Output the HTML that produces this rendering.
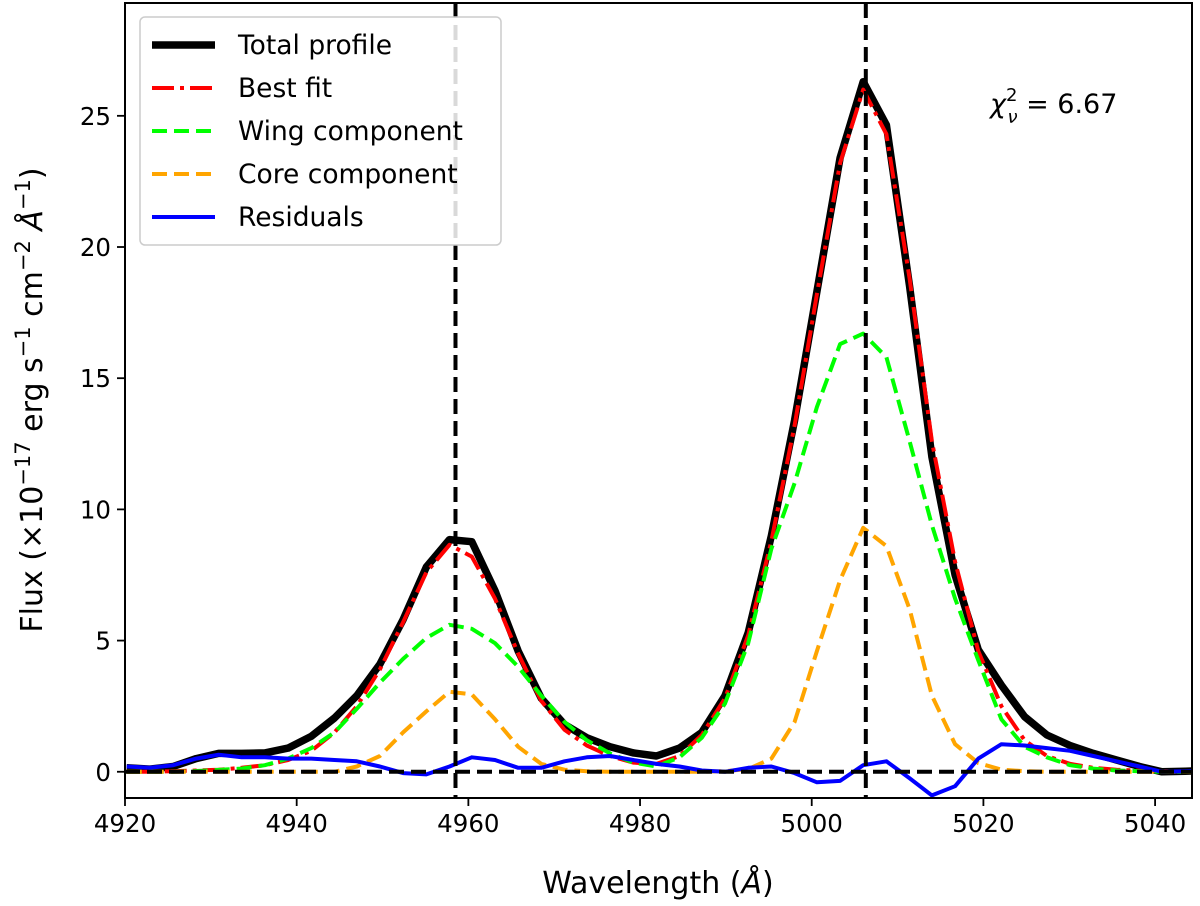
<!DOCTYPE html>
<html><head><meta charset="utf-8"><style>
body{margin:0;background:#fff;}
svg{display:block;font-family:"DejaVu Sans","Liberation Sans",sans-serif;}
</style></head><body>
<svg id="chart" width="1200" height="906" viewBox="0 0 1200 906">
<defs><clipPath id="clip"><rect x="125" y="3" width="1067" height="795"/></clipPath></defs>
<g id="plot" clip-path="url(#clip)"></g>
<rect x="125" y="3" width="1067" height="795" fill="none" stroke="#000" stroke-width="2"/>
<g id="axes"></g>
<text x="658" y="893" font-size="30" text-anchor="middle">Wavelength (<tspan font-style="italic">Å</tspan>)</text>
<text transform="translate(42,400) rotate(-90)" font-size="30" text-anchor="middle">Flux (×10<tspan dy="-12" font-size="21">−17</tspan><tspan dy="12"> erg s</tspan><tspan dy="-12" font-size="21">−1</tspan><tspan dy="12"> cm</tspan><tspan dy="-12" font-size="21">−2</tspan><tspan dy="12"> </tspan><tspan font-style="italic">Å</tspan><tspan dy="-12" font-size="21">−1</tspan><tspan dy="12">)</tspan></text>
<text x="990" y="113" font-size="27"><tspan font-style="italic">χ</tspan><tspan dy="-12" font-size="18">2</tspan><tspan dx="-10" dy="22" font-size="18" font-style="italic">ν</tspan><tspan dy="-10"> = 6.67</tspan></text>
<g>
<rect x="140" y="17" width="361" height="228" rx="5" fill="#fff" fill-opacity="0.85" stroke="#ccc" stroke-width="1.5"/>
<g><line x1="152" y1="45" x2="215" y2="45" stroke="#000" stroke-width="7.5"/><text x="238" y="54" font-size="26.5">Total profile</text></g>
<g><line x1="152" y1="88" x2="215" y2="88" stroke="#f00" stroke-width="4" stroke-dasharray="22,6,4,6"/><text x="238" y="97" font-size="26.5">Best fit</text></g>
<g><line x1="152" y1="131" x2="215" y2="131" stroke="#0f0" stroke-width="4" stroke-dasharray="15,7"/><text x="238" y="140" font-size="26.5">Wing component</text></g>
<g><line x1="152" y1="174" x2="215" y2="174" stroke="orange" stroke-width="4" stroke-dasharray="15,7"/><text x="238" y="183" font-size="26.5">Core component</text></g>
<g><line x1="152" y1="217" x2="215" y2="217" stroke="#00f" stroke-width="4"/><text x="238" y="226" font-size="26.5">Residuals</text></g>
</g>
</svg>
<script>
const wavelength=[4920.2,4922.9,4925.6,4928.3,4930.9,4933.6,4936.3,4939.0,4941.7,4944.4,4947.0,4949.7,4952.4,4955.1,4957.8,4960.4,4963.1,4965.8,4968.5,4971.2,4973.8,4976.5,4979.2,4981.9,4984.6,4987.2,4989.9,4992.6,4995.3,4998.0,5000.6,5003.3,5006.0,5008.7,5011.4,5014.0,5016.7,5019.4,5022.1,5024.8,5027.4,5030.1,5032.8,5035.5,5038.2,5040.8,5043.5,5046.2];
const totalFlux=[0.15,0.1,0.2,0.5,0.7,0.7,0.72,0.9,1.35,2.05,2.9,4.1,5.8,7.8,8.85,8.77,6.9,4.6,2.8,1.8,1.3,0.95,0.72,0.6,0.9,1.5,2.9,5.3,9.0,13.4,18.3,23.4,26.3,24.65,18.5,12.0,7.5,4.65,3.3,2.1,1.4,1.0,0.7,0.45,0.2,0.0,0.02,0.05];
const bestFit=[0.0,0.0,0.02,0.05,0.08,0.15,0.25,0.45,0.8,1.5,2.5,3.9,5.7,7.6,8.65,8.2,6.6,4.5,2.7,1.6,1.0,0.6,0.35,0.3,0.6,1.4,2.8,5.2,8.8,13.2,18.2,23.2,26.0,24.3,18.8,12.6,8.0,4.6,2.5,1.2,0.6,0.3,0.15,0.08,0.04,0.02,0,0];
const wingComp=[0,0,0,0.03,0.07,0.12,0.25,0.5,0.9,1.5,2.4,3.4,4.3,5.1,5.6,5.45,4.9,4.0,2.9,1.9,1.2,0.7,0.35,0.2,0.55,1.3,2.6,4.9,8.5,11.0,13.9,16.3,16.7,15.8,12.6,9.4,6.6,4.25,2.0,0.95,0.55,0.25,0.12,0.05,0.02,0,0,0];
const coreComp=[0,0,0,0,0,0,0,0,0,0,0.2,0.6,1.5,2.3,3.05,2.95,2.0,0.95,0.3,0.08,0.02,0,0,0,0,0,0.02,0.1,0.5,1.9,4.6,7.3,9.3,8.6,6.2,2.9,1.05,0.33,0.08,0.02,0,0,0,0,0,0,0,0];
const residuals=[0.2,0.15,0.25,0.5,0.65,0.55,0.55,0.5,0.5,0.45,0.4,0.2,-0.05,-0.1,0.2,0.55,0.45,0.15,0.15,0.4,0.55,0.6,0.45,0.3,0.2,0.05,0.0,0.15,0.2,-0.05,-0.4,-0.35,0.25,0.4,-0.25,-0.9,-0.55,0.5,1.05,1.0,0.9,0.8,0.6,0.4,0.2,0.0,0.02,0.05];
const xTicks=[4920,4940,4960,4980,5000,5020,5040];
const yTicks=[0,5,10,15,20,25];
const refLines=[4958.5,5006.3];

const X0=4920,X1=5044.3,Y0=-1,Y1=29.3,L=125,R=1192,T=3,B=798;
function xs(v){return L+(v-X0)/(X1-X0)*(R-L);}
function ys(v){return B-(v-Y0)/(Y1-Y0)*(B-T);}
const NS='http://www.w3.org/2000/svg';
const plot=document.getElementById('plot'),axes=document.getElementById('axes');
function mk(tag,attrs,parent){const e=document.createElementNS(NS,tag);for(const k in attrs)e.setAttribute(k,attrs[k]);parent.appendChild(e);return e;}
function series(vals,stroke,w,dash,name){
  const d=vals.map((v,i)=>(i?'L':'M')+xs(wavelength[i]).toFixed(1)+','+ys(v).toFixed(1)).join('');
  const p=mk('path',{d:d,fill:'none',stroke:stroke,'stroke-width':w,'stroke-linejoin':'round','stroke-dasharray':dash||'none'},plot);
  
  
}
series(totalFlux,'#000',7.5,null,'total-profile-line');
series(bestFit,'#f00',4,'22,6,4,6','best-fit-line');
series(wingComp,'#0f0',4,'15,7','wing-component-line');
series(coreComp,'orange',4,'15,7','core-component-line');
series(residuals,'#00f',4,null,'residuals-line');
const zl=mk('line',{x1:L,x2:R,y1:ys(0),y2:ys(0),stroke:'#000','stroke-width':4,'stroke-dasharray':'15,7'},plot);


refLines.forEach(v=>{
  const l=mk('line',{x1:xs(v),x2:xs(v),y1:T,y2:B,stroke:'#000','stroke-width':4,'stroke-dasharray':'15,7'},plot);
  
  
});
xTicks.forEach(v=>{
  const x=xs(v);
  const t=mk('line',{x1:x,x2:x,y1:B,y2:B+8,stroke:'#000','stroke-width':1.8},axes);
  
  
  const tx=mk('text',{x:x,y:B+34,'font-size':24.5,'text-anchor':'middle'},axes);
  tx.textContent=v;
  
  
});
yTicks.forEach(v=>{
  const y=ys(v);
  const t=mk('line',{x1:L-8,x2:L,y1:y,y2:y,stroke:'#000','stroke-width':1.8},axes);
  
  
  const tx=mk('text',{x:L-14,y:y+9,'font-size':24.5,'text-anchor':'end'},axes);
  tx.textContent=v;
  
  
});
</script>
</body></html>
